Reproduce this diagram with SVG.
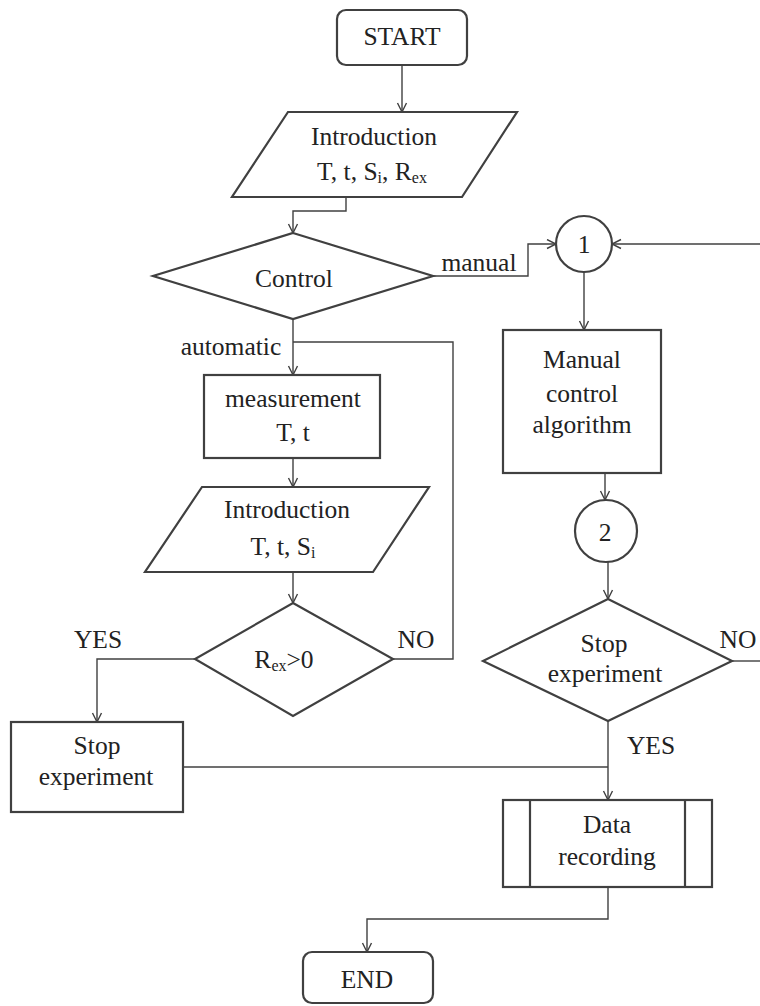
<svg xmlns="http://www.w3.org/2000/svg" width="760" height="1006" viewBox="0 0 760 1006">
<defs>
<style>
.shape{fill:#fff;stroke:#404040;stroke-width:2.2;}
.conn{fill:none;stroke:#404040;stroke-width:1.4;}
text{font-family:"Liberation Serif","Times New Roman",serif;font-size:25.5px;fill:#222;text-anchor:middle;}
.sub{font-size:16px;}
</style>
<marker id="arr" markerUnits="userSpaceOnUse" markerWidth="12" markerHeight="12" refX="10" refY="5.5" orient="auto">
<path d="M1,1 L10,5.5 L1,10" fill="none" stroke="#404040" stroke-width="1.4"/>
</marker>
</defs>
<rect width="760" height="1006" fill="#fff"/>

<g id="connectors">
<path class="conn" d="M402,65 V112" marker-end="url(#arr)"/>
<path class="conn" d="M346,197 V211 H293 V233" marker-end="url(#arr)"/>
<path class="conn" d="M293,319 V375" marker-end="url(#arr)"/>
<path class="conn" d="M293,458 V487" marker-end="url(#arr)"/>
<path class="conn" d="M293,572 V603" marker-end="url(#arr)"/>
<path class="conn" d="M393,659 H453 V342 H293"/>
<path class="conn" d="M195,659 H97 V722" marker-end="url(#arr)"/>
<path class="conn" d="M183,767 H608"/>
<path class="conn" d="M433,276 H528 V244 H556" marker-end="url(#arr)"/>
<path class="conn" d="M760,244 H612" marker-end="url(#arr)"/>
<path class="conn" d="M584,272 V330" marker-end="url(#arr)"/>
<path class="conn" d="M605,473 V500" marker-end="url(#arr)"/>
<path class="conn" d="M608,562 V599" marker-end="url(#arr)"/>
<path class="conn" d="M732,661 H760"/>
<path class="conn" d="M608,721 V800" marker-end="url(#arr)"/>
<path class="conn" d="M608,887 V919 H367 V952" marker-end="url(#arr)"/>
</g>

<g id="start">
<rect class="shape" x="337" y="10" width="130" height="55" rx="9"/>
<text x="402" y="45">START</text>
</g>

<g id="intro1">
<polygon class="shape" points="288,112 517,112 462,197 232,197"/>
<text x="374" y="145">Introduction</text>
<text x="372" y="180">T, t, S<tspan class="sub" dy="3">i</tspan><tspan dy="-3">, R</tspan><tspan class="sub" dy="3">ex</tspan></text>
</g>

<g id="control">
<polygon class="shape" points="293,233 433,276 293,319 153,276"/>
<text x="294" y="287">Control</text>
</g>
<g id="label-manual"><text x="479" y="271">manual</text></g>
<g id="label-automatic"><text x="231" y="355">automatic</text></g>

<g id="measurement">
<rect class="shape" x="204" y="375" width="176" height="83"/>
<text x="293" y="407">measurement</text>
<text x="293" y="441">T, t</text>
</g>

<g id="intro2">
<polygon class="shape" points="202,487 429,487 373,572 145,572"/>
<text x="287" y="518">Introduction</text>
<text x="283" y="555">T, t, S<tspan class="sub" dy="3">i</tspan></text>
</g>

<g id="rex">
<polygon class="shape" points="293,603 393,659 293,716 195,659"/>
<text x="284" y="668">R<tspan class="sub" dy="3">ex</tspan><tspan dy="-3">&gt;0</tspan></text>
</g>
<g id="label-yes-left"><text x="98" y="648">YES</text></g>
<g id="label-no-left"><text x="416" y="648">NO</text></g>

<g id="stop-box">
<rect class="shape" x="11" y="722" width="172" height="90"/>
<text x="97" y="754">Stop</text>
<text x="96" y="785">experiment</text>
</g>

<g id="conn1">
<circle class="shape" cx="584" cy="244" r="28"/>
<text x="584" y="253">1</text>
</g>

<g id="manual-box">
<rect class="shape" x="503" y="330" width="158" height="143"/>
<text x="582" y="368">Manual</text>
<text x="582" y="402">control</text>
<text x="582" y="433">algorithm</text>
</g>

<g id="conn2">
<circle class="shape" cx="606" cy="531" r="31"/>
<text x="605" y="541">2</text>
</g>

<g id="stop-diamond">
<polygon class="shape" points="608,599 732,661 608,721 483,661"/>
<text x="604" y="652">Stop</text>
<text x="605" y="682">experiment</text>
</g>
<g id="label-no-right"><text x="738" y="648">NO</text></g>
<g id="label-yes-right"><text x="651" y="754">YES</text></g>

<g id="data-recording">
<rect class="shape" x="503" y="800" width="209" height="87"/>
<line class="shape" x1="530" y1="800" x2="530" y2="887"/>
<line class="shape" x1="685" y1="800" x2="685" y2="887"/>
<text x="607" y="833">Data</text>
<text x="607" y="865">recording</text>
</g>

<g id="end">
<rect class="shape" x="303" y="952" width="130" height="51" rx="9"/>
<text x="367" y="988">END</text>
</g>
</svg>
